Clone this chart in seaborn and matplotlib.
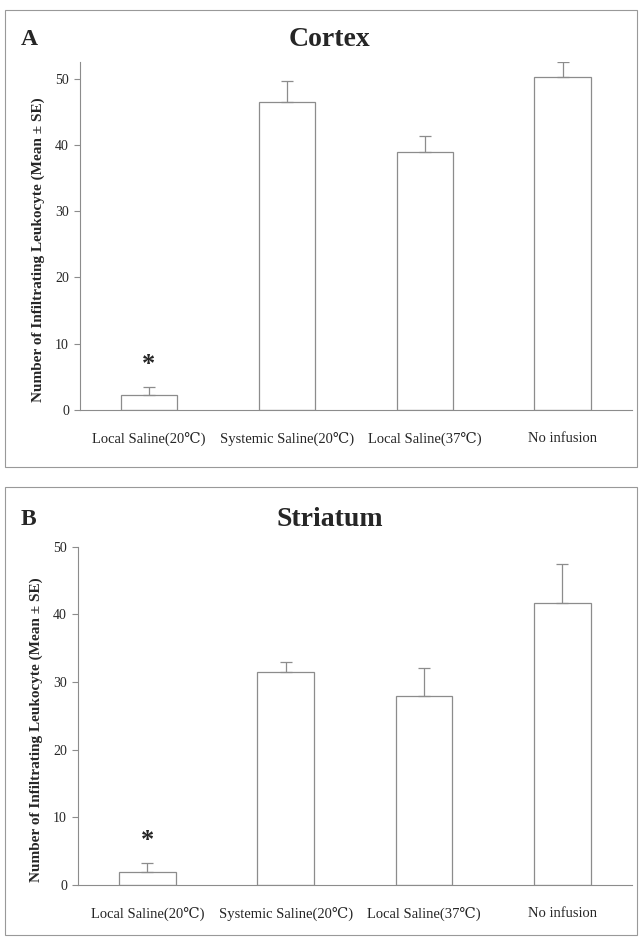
import pandas as pd
import matplotlib.pyplot as plt
import seaborn as sns
import numpy as np
from matplotlib.patches import Rectangle

sns.set_theme(style='white')
plt.rcParams['font.family'] = ['Liberation Serif', 'DejaVu Serif']

# Datos
groups = ['Local Saline(20℃)', 'Systemic Saline(20℃)', 'Local Saline(37℃)', 'No infusion']
cortex_mean = [2.2, 46.5, 38.9, 50.3]
cortex_se = [1.3, 3.1, 2.4, 2.2]
striatum_mean = [1.9, 31.5, 28.0, 41.7]
striatum_se = [1.4, 1.4, 4.0, 5.8]

panels = [
    ('A', 'Cortex', cortex_mean, cortex_se, [0.125, 0.564, 0.862, 0.370], 52.5),
    ('B', 'Striatum', striatum_mean, striatum_se, [0.122, 0.0585, 0.865, 0.360], 50),
]

fig = plt.figure(figsize=(6.4, 9.4), dpi=100)

# marcos de cada panel
for y0, h in [(0.503, 0.486), (0.005, 0.477)]:
    fig.patches.append(Rectangle((0.008, y0), 0.988, h, transform=fig.transFigure,
                                 fill=False, edgecolor='#999999', linewidth=0.8))

grey = '#8c8c8c'
for letter, title, means, ses, pos, ytop in panels:
    ax = fig.add_axes(pos)
    df = pd.DataFrame({'grupo': groups, 'valor': means})
    sns.barplot(data=df, x='grupo', y='valor', ax=ax, color='white',
                edgecolor=grey, linewidth=0.9, width=0.41, errorbar=None)
    ax.errorbar(np.arange(len(groups)), means, yerr=[np.zeros(len(ses)), ses],
                fmt='none', ecolor=grey, elinewidth=0.9, capsize=4, capthick=0.9)
    ax.text(0, means[0] + ses[0] + 3.3, '*', ha='center', va='center',
            fontsize=19, fontweight='bold')

    ax.set_xlim(-0.5, 3.5)
    ax.set_ylim(0, ytop)
    ax.set_yticks([0, 10, 20, 30, 40, 50])
    ax.set_xticks(np.arange(-0.5, 4, 1), minor=True)
    ax.tick_params(axis='x', which='major', length=0, labelsize=10.5, pad=16)
    ax.tick_params(axis='x', which='minor', length=4, color=grey, width=0.8, direction='out')
    ax.tick_params(axis='y', length=4, color=grey, width=0.8, labelsize=10, direction='out',
                   left=True, pad=4)
    ax.set_xlabel('')
    ax.set_ylabel('Number of Infiltrating Leukocyte (Mean ± SE)', fontsize=11,
                  fontweight='bold')
    ax.yaxis.set_label_coords(-0.064, 0.46)
    for s in ['top', 'right']:
        ax.spines[s].set_visible(False)
    for s in ['left', 'bottom']:
        ax.spines[s].set_color(grey)
        ax.spines[s].set_linewidth(0.8)

    top = pos[1] + pos[3]
    off = 0.024 if letter == 'A' else 0.029
    fig.text(0.033, top + off, letter, fontsize=17, fontweight='bold', va='center')
    fig.text(0.515, top + off, title, fontsize=20, fontweight='bold', va='center', ha='center')

fig.savefig('out.png', dpi=100, facecolor='white')
